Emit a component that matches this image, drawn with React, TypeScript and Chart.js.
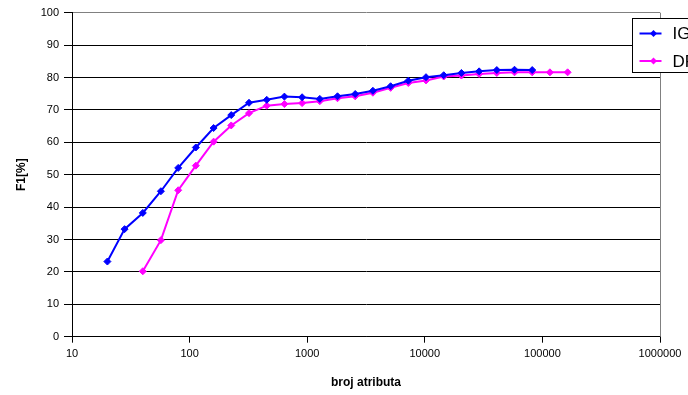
import React, { useEffect, useRef } from "react";
import { Chart, registerables } from "chart.js";

Chart.register(...registerables);

// number of attributes (x, log scale)
const attrCounts = [
  20, 28, 40, 57, 80, 113, 160, 226, 320, 453, 640, 905, 1280, 1810, 2560, 3620,
  5120, 7240, 10240, 14480, 20480, 28960, 40960, 57920, 81920, 115850, 163840,
];
// IG series: attrCounts[0..24]
const igValues = [
  23.2, 33.2, 38.2, 44.9, 52.1, 58.4, 64.4, 68.4, 72.2, 73.1, 74.1, 73.9, 73.4,
  74.2, 74.9, 75.9, 77.3, 79.0, 80.1, 80.7, 81.4, 81.9, 82.3, 82.4, 82.3,
];
// DF series: attrCounts[2..26]
const dfValues = [
  20.2, 29.8, 45.2, 52.8, 60.2, 65.2, 69.0, 71.3, 71.8, 72.1, 72.7, 73.6, 74.2,
  75.3, 76.8, 78.3, 79.1, 80.3, 80.6, 81.1, 81.4, 81.6, 81.6, 81.6, 81.6,
];
const igStart = 0;
const dfStart = 2;
const seriesNames = ["IG", "DF"];
const seriesColors = ["#0000FF", "#FF00FF"];
const xTickValues = [10, 100, 1000, 10000, 100000, 1000000];
const yMin = 0;
const yMax = 100;
const yStep = 10;
const xTitle = "broj atributa";
const yTitle = "F1[%]";

const FONT = "'Liberation Sans', Arial, sans-serif";

const legendPlugin = {
  id: "boxLegend",
  afterDraw(chart: any) {
    const ctx = chart.ctx;
    const area = chart.chartArea;
    ctx.save();
    // plot-area border (right side)
    ctx.strokeStyle = "#808080";
    ctx.lineWidth = 1;
    ctx.beginPath();
    ctx.moveTo(Math.round(area.right) + 0.5, area.top);
    ctx.lineTo(Math.round(area.right) + 0.5, area.bottom);
    ctx.stroke();

    // legend box
    const bx = 632.5;
    const by = 18.5;
    ctx.fillStyle = "#fff";
    ctx.strokeStyle = "#000";
    ctx.fillRect(bx, by, 120, 54);
    ctx.strokeRect(bx, by, 120, 54);
    chart.data.datasets.forEach((ds: any, i: number) => {
      const y = by + 15 + i * 27.5;
      ctx.strokeStyle = ds.borderColor;
      ctx.lineWidth = 2;
      ctx.beginPath();
      ctx.moveTo(bx + 7, y);
      ctx.lineTo(bx + 29, y);
      ctx.stroke();
      ctx.fillStyle = ds.borderColor;
      ctx.beginPath();
      const cx = bx + 21;
      const r = 3.5;
      ctx.moveTo(cx, y - r);
      ctx.lineTo(cx + r, y);
      ctx.lineTo(cx, y + r);
      ctx.lineTo(cx - r, y);
      ctx.closePath();
      ctx.fill();
      ctx.fillStyle = "#000";
      ctx.font = `17px ${FONT}`;
      ctx.textBaseline = "middle";
      ctx.textAlign = "left";
      ctx.fillText(ds.label, bx + 40, y + 1);
    });
    ctx.restore();
  },
};

export default function App() {
  const canvasRef = useRef<HTMLCanvasElement | null>(null);

  useEffect(() => {
    const canvas = canvasRef.current;
    if (!canvas) return;
    const mk = (vals: number[], start: number) =>
      vals.map((v, i) => ({ x: attrCounts[start + i], y: v }));

    const chart = new Chart(canvas, {
      type: "line",
      data: {
        datasets: [
          {
            label: seriesNames[0],
            data: mk(igValues, igStart),
            borderColor: seriesColors[0],
            backgroundColor: seriesColors[0],
            borderWidth: 2,
            pointStyle: "rectRot",
            pointRadius: 3.5,
            pointBorderWidth: 1,
            pointBackgroundColor: seriesColors[0],
            pointBorderColor: seriesColors[0],
            tension: 0,
          },
          {
            label: seriesNames[1],
            data: mk(dfValues, dfStart),
            borderColor: seriesColors[1],
            backgroundColor: seriesColors[1],
            borderWidth: 2,
            pointStyle: "rectRot",
            pointRadius: 3.5,
            pointBorderWidth: 1,
            pointBackgroundColor: seriesColors[1],
            pointBorderColor: seriesColors[1],
            tension: 0,
          },
        ],
      },
      options: {
        responsive: false,
        animation: false,
        devicePixelRatio: 1,
        layout: { padding: { left: 0, right: 28, top: 12.7, bottom: 0 } },
        plugins: {
          legend: { display: false },
          tooltip: { enabled: false },
        },
        scales: {
          x: {
            type: "logarithmic",
            min: 10,
            max: 1000000,
            afterBuildTicks: (s: any) => {
              s.ticks = xTickValues.map((v) => ({ value: v }));
            },
            afterFit: (s: any) => {
              s.height = 58.3;
            },
            ticks: {
              autoSkip: false,
              maxRotation: 0,
              color: "#000",
              padding: 5,
              font: { family: FONT, size: 11 },
              callback: (v: any) => String(v),
            },
            grid: {
              drawOnChartArea: false,
              drawTicks: true,
              tickLength: 6,
              color: "#000",
            },
            border: { color: "#000", width: 1 },
            title: {
              display: true,
              text: xTitle,
              color: "#000",
              font: { family: FONT, size: 12, weight: "bold" },
              padding: { top: 0, bottom: 5 },
            },
          },
          y: {
            type: "linear",
            min: yMin,
            max: yMax,
            afterFit: (s: any) => {
              s.width = 72;
            },
            ticks: {
              stepSize: yStep,
              color: "#000",
              padding: 5,
              font: { family: FONT, size: 11 },
            },
            grid: {
              color: (c: any) => (c.tick && c.tick.value === yMax ? "#808080" : "#000"),
              tickColor: "#000",
              tickLength: 8,
              lineWidth: 1,
            },
            border: { color: "#000", width: 1 },
            title: {
              display: true,
              text: yTitle,
              color: "#000",
              font: { family: FONT, size: 12, weight: "bold" },
              padding: { top: 14, bottom: 0 },
            },
          },
        },
      },
      plugins: [legendPlugin],
    } as any);

    return () => chart.destroy();
  }, []);

  return (
    <div style={{ position: "fixed", left: 0, top: 0, width: 688, height: 395, background: "#fff" }}>
      <canvas ref={canvasRef} width={688} height={395} style={{ display: "block" }} />
    </div>
  );
}
